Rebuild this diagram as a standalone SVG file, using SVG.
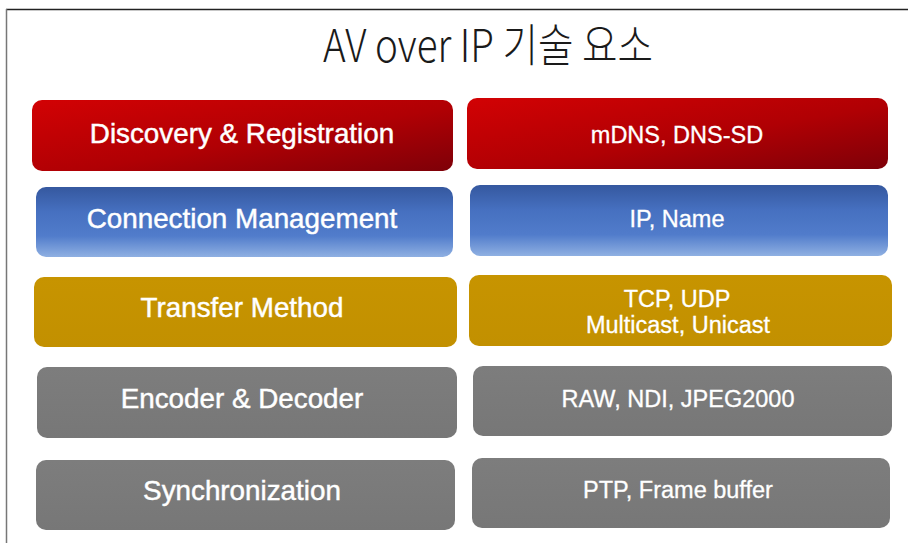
<svg xmlns="http://www.w3.org/2000/svg" width="911" height="543" viewBox="0 0 911 543">
  <defs>
    <linearGradient id="gRed" x1="0" y1="0" x2="1" y2="1">
      <stop offset="0" stop-color="#d20204"/>
      <stop offset="0.55" stop-color="#b00004"/>
      <stop offset="1" stop-color="#7e0008"/>
    </linearGradient>
    <linearGradient id="gBlue" x1="0" y1="0" x2="0" y2="1">
      <stop offset="0" stop-color="#35589f"/>
      <stop offset="0.35" stop-color="#4670c0"/>
      <stop offset="0.7" stop-color="#517ccb"/>
      <stop offset="1" stop-color="#8fb0e2"/>
    </linearGradient>
    <linearGradient id="gGold" x1="0" y1="0" x2="0" y2="1">
      <stop offset="0" stop-color="#c79400"/>
      <stop offset="1" stop-color="#c29000"/>
    </linearGradient>
    <linearGradient id="gGray" x1="0" y1="0" x2="0" y2="1">
      <stop offset="0" stop-color="#7d7d7d"/>
      <stop offset="1" stop-color="#777777"/>
    </linearGradient>
  </defs>
  <style>
    .lbl { font-family: "Liberation Sans", Arial, sans-serif; fill: #ffffff; stroke: #ffffff; stroke-width: 0.45; text-anchor: middle; }
    .left { font-size: 27.8px; }
    .right { font-size: 23.5px; stroke-width: 0.3; }
    .title { font-family: "Noto Sans CJK KR", "Liberation Sans", sans-serif; font-weight: 300; font-size: 45px; fill: #1a1a1a; text-anchor: middle; }
    .red { fill: url(#gRed); }
    .blue { fill: url(#gBlue); }
    .gold { fill: url(#gGold); }
    .gray { fill: url(#gGray); }
  </style>
  <rect x="0" y="0" width="911" height="543" fill="#ffffff"/>
  <g id="frame">
    <line x1="6" y1="9.5" x2="908" y2="9.5" stroke="#222222" stroke-width="1.5"/>
    <line x1="6.5" y1="9" x2="6.5" y2="543" stroke="#777777" stroke-width="1.5"/>
  </g>
  <g id="title">
    <text class="title" x="488" y="62" textLength="330" lengthAdjust="spacingAndGlyphs">AV over IP 기술 요소</text>
  </g>
  <g id="discovery">
    <rect class="red" x="32" y="100" width="421" height="71" rx="10"/>
    <text class="lbl left" x="242" y="143">Discovery &amp; Registration</text>
  </g>
  <g id="discovery-proto">
    <rect class="red" x="467" y="98" width="421" height="71" rx="10"/>
    <text class="lbl right" x="677" y="143">mDNS, DNS-SD</text>
  </g>
  <g id="connection">
    <rect class="blue" x="36" y="187" width="417" height="70" rx="10"/>
    <text class="lbl left" x="242" y="228">Connection Management</text>
  </g>
  <g id="connection-proto">
    <rect class="blue" x="470" y="185" width="418" height="71" rx="10"/>
    <text class="lbl right" x="677" y="227">IP, Name</text>
  </g>
  <g id="transfer">
    <rect class="gold" x="34" y="277" width="423" height="70" rx="10"/>
    <text class="lbl left" x="242" y="317">Transfer Method</text>
  </g>
  <g id="transfer-proto">
    <rect class="gold" x="469" y="275" width="423" height="71" rx="10"/>
    <text class="lbl right" x="677" y="307">TCP, UDP</text>
    <text class="lbl right" x="678" y="333">Multicast, Unicast</text>
  </g>
  <g id="codec">
    <rect class="gray" x="37" y="367" width="420" height="71" rx="10"/>
    <text class="lbl left" x="242" y="408">Encoder &amp; Decoder</text>
  </g>
  <g id="codec-proto">
    <rect class="gray" x="473" y="366" width="419" height="70" rx="10"/>
    <text class="lbl right" x="678" y="407">RAW, NDI, JPEG2000</text>
  </g>
  <g id="sync">
    <rect class="gray" x="36" y="460" width="419" height="70" rx="10"/>
    <text class="lbl left" x="242" y="500">Synchronization</text>
  </g>
  <g id="sync-proto">
    <rect class="gray" x="472" y="458" width="418" height="70" rx="10"/>
    <text class="lbl right" x="678" y="498">PTP, Frame buffer</text>
  </g>
  <g id="connectors"></g>
</svg>
